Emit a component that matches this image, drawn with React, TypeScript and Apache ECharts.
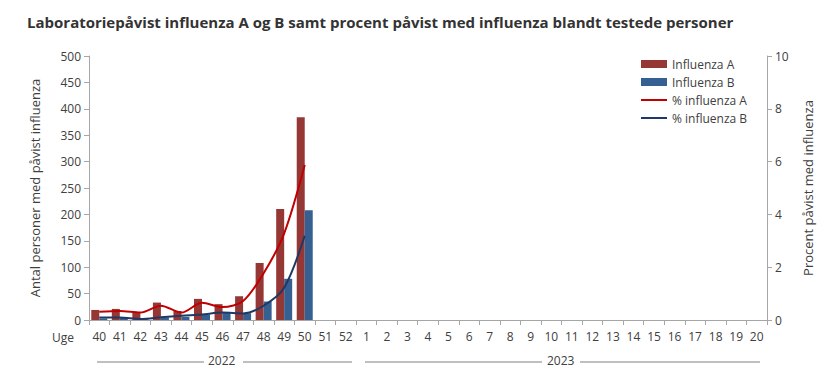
import React, { useEffect, useRef } from "react";
import * as echarts from "echarts";

const weeks = ["40","41","42","43","44","45","46","47","48","49","50","51","52","1","2","3","4","5","6","7","8","9","10","11","12","13","14","15","16","17","18","19","20"];
const influenzaA = [19, 21, 15, 33, 17, 40, 30, 45, 108, 210, 384];
const influenzaB = [3, 4, 2, 5, 6, 10, 14, 13, 35, 78, 208];
const pctA = [0.31, 0.34, 0.28, 0.54, 0.28, 0.65, 0.49, 0.72, 1.77, 3.28, 5.87];
const pctB = [0.09, 0.09, 0.04, 0.1, 0.16, 0.21, 0.28, 0.25, 0.54, 1.22, 3.19];
const leftTicks = [0, 500, 50];
const rightTicks = [0, 10, 2];

const FONT = "'Open Sans', sans-serif";
const TXT = "#404040";
const LINE_ICON = "path://M0,0H26V2H0Z";

function pad(arr: number[]) {
  return weeks.map((_, i) => (i < arr.length ? arr[i] : null));
}

export default function App() {
  const ref = useRef<HTMLDivElement>(null);
  useEffect(() => {
    if (!ref.current) return;
    const chart = echarts.init(ref.current, null, { renderer: "svg" });
    const axisLine = { show: true, lineStyle: { color: "#a6a6a6" } };
    chart.setOption({
      animation: false,
      textStyle: { fontFamily: FONT },
      title: {
        text: "Laboratoriepåvist influenza A og B samt procent påvist med influenza blandt testede personer",
        left: 22,
        top: 9,
        textStyle: { fontSize: 15, fontWeight: "bold", color: "#333", fontFamily: FONT },
      },
      legend: {
        orient: "vertical",
        left: 636,
        top: 53,
        itemGap: 6,
        itemWidth: 26,
        itemHeight: 8,
        textStyle: { fontSize: 12, color: TXT, fontFamily: FONT },
        data: [
          { name: "Influenza A", icon: "rect" },
          { name: "Influenza B", icon: "rect" },
          { name: "% influenza A", icon: LINE_ICON, itemStyle: { color: "#c00000" } },
          { name: "% influenza B", icon: LINE_ICON, itemStyle: { color: "#1f3864" } },
        ],
      },
      grid: { left: 89, right: 73, top: 56, bottom: 62 },
      xAxis: {
        type: "category",
        data: weeks,
        boundaryGap: true,
        axisLine,
        axisTick: { show: true, alignWithLabel: false, length: 5, lineStyle: { color: "#a6a6a6" } },
        axisLabel: { interval: 0, color: TXT, fontSize: 12, margin: 10, fontFamily: FONT },
      },
      yAxis: [
        {
          type: "value",
          min: leftTicks[0],
          max: leftTicks[1],
          interval: leftTicks[2],
          name: "Antal personer med påvist influenza",
          nameLocation: "middle",
          nameGap: 48,
          nameTextStyle: { fontSize: 13, color: TXT, fontFamily: FONT },
          axisLine,
          axisTick: { show: true, length: 5, lineStyle: { color: "#a6a6a6" } },
          splitLine: { show: false },
          axisLabel: { color: TXT, fontSize: 12, margin: 8, fontFamily: FONT },
        },
        {
          type: "value",
          min: rightTicks[0],
          max: rightTicks[1],
          interval: rightTicks[2],
          position: "right",
          name: "Procent påvist med influenza",
          nameLocation: "middle",
          nameGap: 34,
          nameTextStyle: { fontSize: 13, color: TXT, fontFamily: FONT },
          axisLine,
          axisTick: { show: true, length: 5, lineStyle: { color: "#a6a6a6" } },
          splitLine: { show: false },
          axisLabel: { color: TXT, fontSize: 12, margin: 8, fontFamily: FONT },
        },
      ],
      series: [
        {
          name: "Influenza A",
          type: "bar",
          data: pad(influenzaA),
          barWidth: 8,
          barGap: "0%",
          itemStyle: { color: "#953735" },
        },
        {
          name: "Influenza B",
          type: "bar",
          data: pad(influenzaB),
          barWidth: 8,
          barGap: "0%",
          itemStyle: { color: "#376092" },
        },
        {
          name: "% influenza A",
          type: "line",
          yAxisIndex: 1,
          data: pad(pctA),
          smooth: 0.3,
          showSymbol: false,
          symbol: "none",
          lineStyle: { color: "#c00000", width: 2 },
          itemStyle: { color: "#c00000" },
        },
        {
          name: "% influenza B",
          type: "line",
          yAxisIndex: 1,
          data: pad(pctB),
          smooth: 0.3,
          showSymbol: false,
          symbol: "none",
          lineStyle: { color: "#1f3864", width: 2 },
          itemStyle: { color: "#1f3864" },
        },
      ],
      graphic: [
        { type: "text", left: 52, top: 331, style: { text: "Uge", fontSize: 12, fill: TXT, fontFamily: FONT } },
        { type: "line", shape: { x1: 97, y1: 362, x2: 204, y2: 362 }, style: { stroke: "#808080", lineWidth: 1 } },
        { type: "text", left: 208, top: 354, style: { text: "2022", fontSize: 12, fill: TXT, fontFamily: FONT } },
        { type: "line", shape: { x1: 243, y1: 362, x2: 352, y2: 362 }, style: { stroke: "#808080", lineWidth: 1 } },
        { type: "line", shape: { x1: 365, y1: 362, x2: 542, y2: 362 }, style: { stroke: "#808080", lineWidth: 1 } },
        { type: "text", left: 547, top: 354, style: { text: "2023", fontSize: 12, fill: TXT, fontFamily: FONT } },
        { type: "line", shape: { x1: 580, y1: 362, x2: 760, y2: 362 }, style: { stroke: "#808080", lineWidth: 1 } },
      ],
    });
    return () => chart.dispose();
  }, []);
  return <div ref={ref} style={{ width: 840, height: 382, margin: -8 }} />;
}
